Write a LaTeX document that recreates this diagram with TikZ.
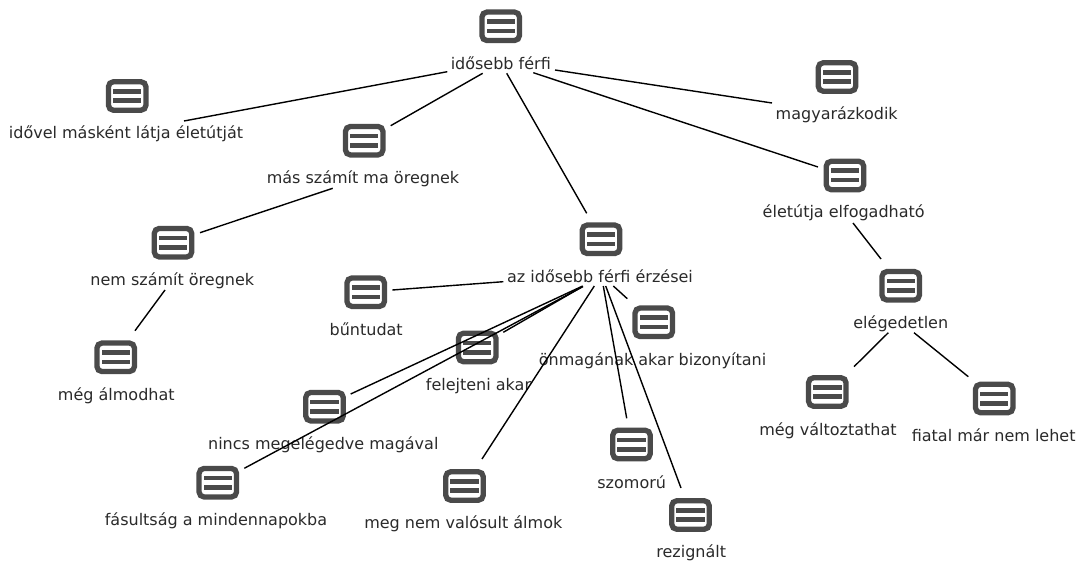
\documentclass[tikz,border=0pt]{standalone}
\usepackage{fontspec}
\setmainfont{DejaVu Sans}
\usetikzlibrary{calc}
\definecolor{iconc}{HTML}{4A4A4A}
\definecolor{txtc}{HTML}{2A2A2A}
\tikzset{
  icon/.style={draw=iconc,line width=5.3pt,rounded corners=5pt,minimum width=37.5pt,minimum height=28.5pt,inner sep=0pt,
    path picture={
      \fill[iconc,sharp corners] ($(path picture bounding box.center)+(-14.2,7)$) rectangle ($(path picture bounding box.center)+(14.2,2.3)$);
      \fill[iconc,sharp corners] ($(path picture bounding box.center)+(-14.2,-2.3)$) rectangle ($(path picture bounding box.center)+(14.2,-7)$);
    }},
  lab/.style={text=txtc,font=\fontsize{16pt}{18pt}\selectfont,inner sep=0pt,anchor=base},
  link/.style={draw=black,line width=1.4pt}
}
\newcommand{\topic}[4]{\node[icon] (i#1) at (#2) {};\node[lab] (#1) at (#3) {#4};}
\newcommand{\link}[4]{\draw[link] ($(i#1)+(#2)$) -- ($(i#3)+(#4)$);}
\begin{document}
\begin{tikzpicture}[x=1pt,y=-1pt]
\useasboundingbox[fill=white] (0,0) rectangle (1081,561);
\topic{top}{500.7,26.3}{500.8,69.3}{idősebb férfi}
\topic{idovel}{127.2,96}{126,139}{idővel másként látja életútját}
\topic{mas}{364.2,140.7}{363,184}{más számít ma öregnek}
\topic{nem}{173,242.7}{172.3,285.7}{nem számít öregnek}
\topic{alm}{115.7,357.3}{116.3,400}{még álmodhat}
\topic{bun}{365.7,292.2}{366.2,335}{bűntudat}
\topic{fel}{477.2,347.5}{478.5,390.7}{felejteni akar}
\topic{nincs}{324.5,406.7}{323.3,449.3}{nincs megelégedve magával}
\topic{fas}{217.8,482.7}{216,525.7}{fásultság a mindennapokba}
\topic{megn}{464.5,486}{463.3,528}{meg nem valósult álmok}
\topic{szom}{631.5,444.5}{631.7,488}{szomorú}
\topic{rez}{690.5,515}{691.2,557}{rezignált}
\topic{onm}{653.8,322.3}{652.5,365}{önmagának akar bizonyítani}
\topic{az}{601,239.3}{600,282.7}{az idősebb férfi érzései}
\topic{magy}{837,77}{836.7,120}{magyarázkodik}
\topic{elet}{845,175.5}{843.7,218}{életútja elfogadható}
\topic{eleg}{900.7,285.8}{900.8,328.3}{elégedetlen}
\topic{valt}{827.3,392}{828,435}{még változtathat}
\topic{fiat}{994.2,398.5}{993.7,441.7}{fiatal már nem lehet}
\link{top}{-53.4,45.4}{idovel}{56.8,25}
\link{top}{-18,47}{mas}{26.5,-15}
\link{top}{6,47}{az}{-14.3,-26}
\link{top}{54.3,43.7}{magy}{-65,26}
\link{top}{32.6,46.4}{elet}{-27,-8.5}
\link{mas}{-31.5,47.6}{nem}{27,-10}
\link{nem}{-8,47.3}{alm}{19.3,-26.6}
\link{elet}{8,47.5}{eleg}{-19.7,-26.8}
\link{eleg}{-12.4,46.9}{valt}{26.7,-25.3}
\link{eleg}{13.3,46.9}{fiat}{-25.9,-21.8}
\link{az}{-97.7,42.4}{bun}{26.6,-2.2}
\link{az}{-18.3,46.7}{nincs}{26.2,-12.7}
\link{az}{-18,47.2}{fas}{26.5,-14.4}
\link{az}{-18.3,47.2}{fel}{26.1,-15.2}
\link{az}{-6.7,46.7}{megn}{17.5,-27}
\link{az}{2.3,46.7}{szom}{-4.8,-26.2}
\link{az}{4.7,46.7}{rez}{-9.5,-27}
\link{az}{12.3,46.7}{onm}{-26.5,-23.6}
\end{tikzpicture}
\end{document}
